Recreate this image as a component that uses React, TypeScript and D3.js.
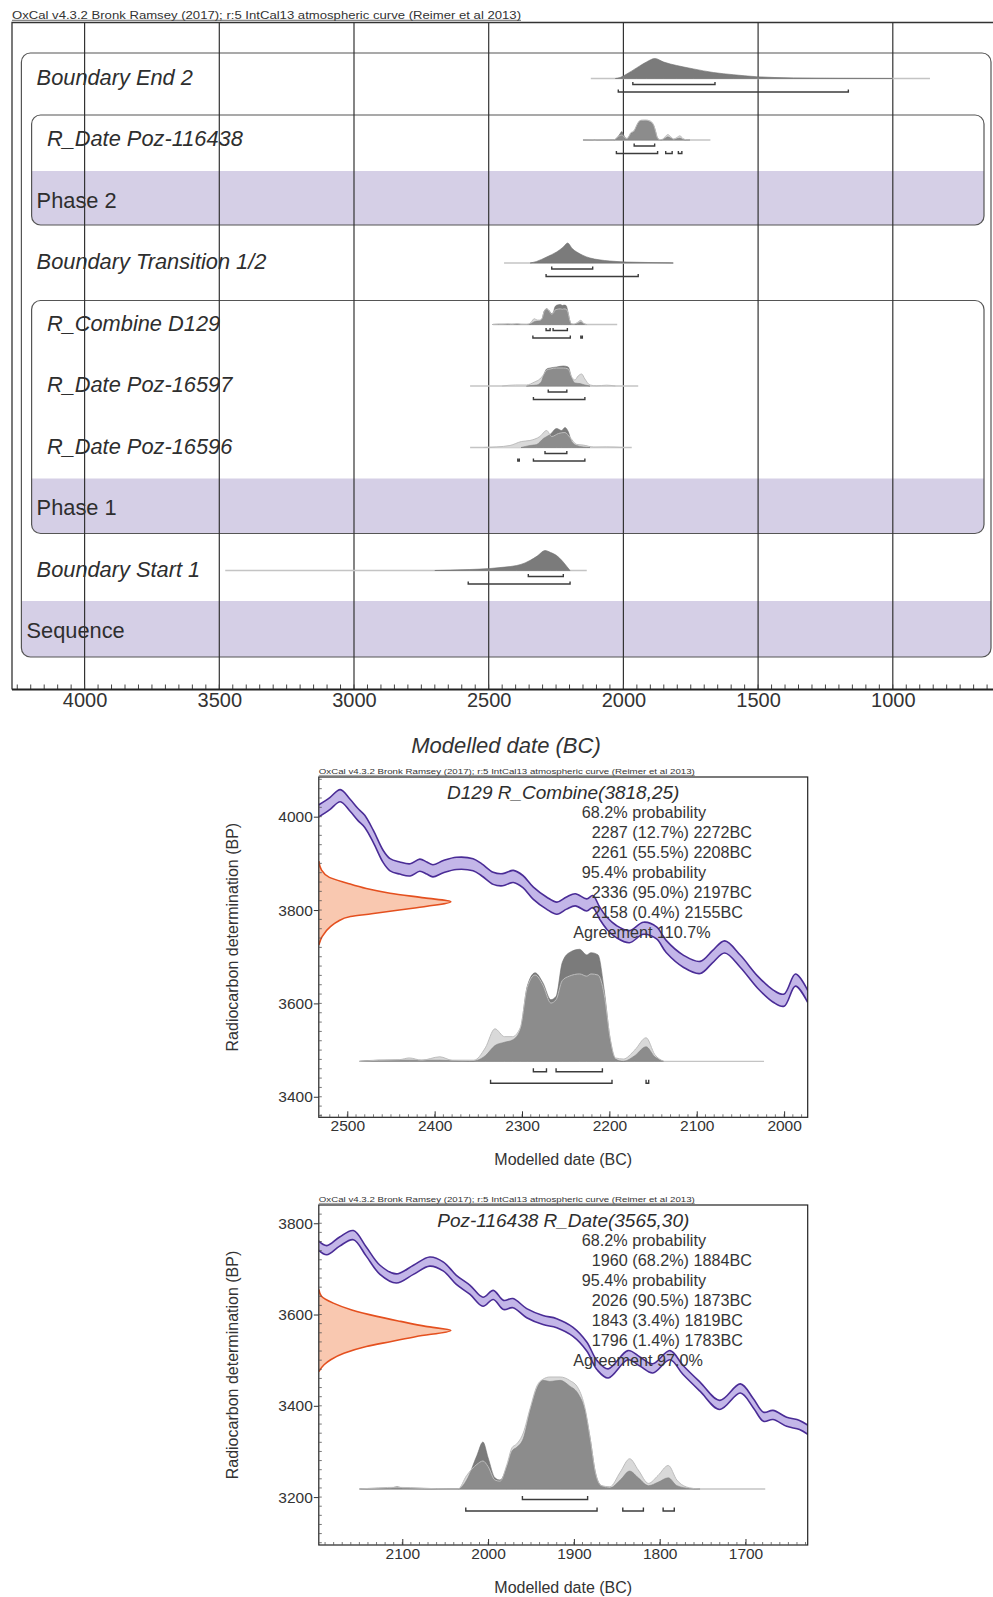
import React, { useEffect, useRef } from 'react';
import * as d3 from 'd3';

type Pt = [number, number];
type Range = [number, number];

const FONT = "'Liberation Sans', Arial, Helvetica, sans-serif";
const HEADER = 'OxCal v4.3.2 Bronk Ramsey (2017); r:5 IntCal13 atmospheric curve (Reimer et al 2013)';

// ---------- top plot: model structure ----------
const ROW_LABELS = [
  'Boundary End 2', 'R_Date Poz-116438', 'Phase 2', 'Boundary Transition 1/2', 'R_Combine D129',
  'R_Date Poz-16597', 'R_Date Poz-16596', 'Phase 1', 'Boundary Start 1', 'Sequence',
];
const ROW_KINDS = ['boundary', 'date', 'phase', 'boundary', 'date', 'date', 'date', 'phase', 'boundary', 'sequence'];
const TOP_TICKS = [4000, 3500, 3000, 2500, 2000, 1500, 1000];

// year BC, relative probability
const END2_POST: Pt[] = [[2030, 0], [2012, 0.05], [1988, 0.22], [1951, 0.53], [1914, 0.83], [1883, 1], [1850, 0.82],
  [1802, 0.65], [1740, 0.48], [1666, 0.3], [1592, 0.19], [1506, 0.09], [1369, 0.03], [1200, 0.01], [1000, 0]];
const END2_BASE: Range = [2121, 862];
const END2_R68: Range[] = [[1965, 1660]];
const END2_R95: Range[] = [[2019, 1165]];

const TRANS_POST: Pt[] = [[2346, 0], [2322, 0.08], [2285, 0.3], [2248, 0.55], [2223, 0.8], [2207, 1], [2190, 0.72],
  [2173, 0.55], [2150, 0.38], [2124, 0.25], [2090, 0.16], [2050, 0.1], [1990, 0.05], [1927, 0.03], [1850, 0.01], [1815, 0]];
const TRANS_BASE: Range = [2443, 1815];
const TRANS_R68: Range[] = [[2266, 2114]];
const TRANS_R95: Range[] = [[2287, 1945]];

const P16597_POST: Pt[] = [[2360, 0], [2347, 0.02], [2322, 0.05], [2305, 0.2], [2297, 0.5], [2285, 0.85], [2272, 0.9],
  [2248, 0.95], [2223, 1], [2205, 0.95], [2192, 0.4], [2180, 0.15], [2161, 0.12], [2143, 0.05], [2124, 0]];
const P16597_PRIOR: Pt[] = [[2450, 0], [2400, 0.05], [2360, 0.05], [2330, 0.2], [2310, 0.35], [2297, 0.55], [2285, 0.8],
  [2272, 0.85], [2248, 0.9], [2223, 0.9], [2205, 0.85], [2192, 0.45], [2180, 0.3], [2168, 0.5], [2155, 0.6], [2143, 0.35],
  [2124, 0.05], [2100, 0.01], [2062, 0.04], [2030, 0]];
const P16597_BASE: Range = [2569, 1945];
const P16597_R68: Range[] = [[2279, 2210]];
const P16597_R95: Range[] = [[2334, 2143]];

const P16596_POST: Pt[] = [[2380, 0], [2347, 0.1], [2322, 0.15], [2297, 0.45], [2272, 0.65], [2248, 0.95], [2229, 0.85],
  [2217, 1], [2205, 0.8], [2192, 0.3], [2173, 0.1], [2149, 0.03], [2124, 0]];
const P16596_PRIOR: Pt[] = [[2520, 0], [2470, 0.03], [2421, 0.1], [2378, 0.3], [2347, 0.35], [2310, 0.55], [2285, 0.85],
  [2266, 0.55], [2241, 0.7], [2217, 0.75], [2198, 0.5], [2173, 0.15], [2149, 0.12], [2110, 0.02], [2062, 0.03], [2000, 0]];
const P16596_BASE: Range = [2569, 1969];
const P16596_R68: Range[] = [[2291, 2210]];
const P16596_R95: Range[] = [[2392, 2387], [2334, 2143]];

const START1_POST: Pt[] = [[2700, 0], [2644, 0.02], [2570, 0.05], [2495, 0.1], [2440, 0.17], [2396, 0.25], [2365, 0.38],
  [2347, 0.5], [2320, 0.72], [2291, 1], [2270, 0.9], [2248, 0.75], [2225, 0.45], [2210, 0.2], [2198, 0]];
const START1_BASE: Range = [3478, 2136];
const START1_R68: Range[] = [[2353, 2223]];
const START1_R95: Range[] = [[2576, 2198]];

// ---------- D129 R_Combine(3818,25) ----------
const D129_TITLE = 'D129 R_Combine(3818,25)';
const D129_TEXT = ['68.2% probability', '2287 (12.7%) 2272BC', '2261 (55.5%) 2208BC', '95.4% probability',
  '2336 (95.0%) 2197BC', '2158 (0.4%) 2155BC', 'Agreement 110.7%'];
const D129_X_TICKS = [2500, 2400, 2300, 2200, 2100, 2000];
const D129_Y_TICKS = [3400, 3600, 3800, 4000];
// cal BC, 14C BP (IntCal13 mid-line)
const D129_CURVE: Pt[] = [[2533, 4012], [2520, 4028], [2508, 4045], [2497, 4025], [2488, 4005], [2480, 3990], [2470, 3957],
  [2459, 3915], [2451, 3897], [2440, 3890], [2428, 3886], [2417, 3896], [2409, 3890], [2402, 3884], [2390, 3893],
  [2375, 3900], [2356, 3897], [2346, 3886], [2333, 3868], [2322, 3865], [2310, 3872], [2299, 3861], [2287, 3836],
  [2272, 3815], [2260, 3804], [2249, 3815], [2239, 3822], [2226, 3811], [2219, 3818], [2211, 3793], [2203, 3772],
  [2192, 3754], [2177, 3743], [2161, 3761], [2146, 3751], [2135, 3722], [2115, 3690], [2096, 3677], [2082, 3700],
  [2068, 3721], [2050, 3690], [2030, 3645], [2012, 3615], [2000, 3607], [1987, 3650], [1973, 3615]];
const D129_CURVE_SIGMA = 13;
// BP, relative density
const D129_MEASURE: Pt[] = [[3905, 0], [3886, 0.02], [3870, 0.08], [3858, 0.21], [3846, 0.36], [3836, 0.54], [3826, 0.8],
  [3818, 1], [3808, 0.82], [3800, 0.61], [3792, 0.4], [3786, 0.24], [3775, 0.14], [3765, 0.09], [3743, 0.025], [3725, 0]];
const D129_POST: Pt[] = [[2486, 0], [2464, 0.01], [2429, 0.01], [2394, 0.01], [2360, 0], [2351, 0.01], [2342, 0.05],
  [2331, 0.14], [2320, 0.17], [2311, 0.19], [2302, 0.28], [2294, 0.67], [2285, 0.79], [2276, 0.7], [2267, 0.55],
  [2261, 0.58], [2254, 0.88], [2246, 0.97], [2234, 1], [2226, 0.95], [2221, 0.97], [2213, 0.95], [2206, 0.64],
  [2199, 0.19], [2193, 0.02], [2184, 0], [2171, 0.05], [2158, 0.13], [2148, 0.04], [2138, 0]];
const D129_PRIOR: Pt[] = [[2486, 0], [2464, 0.01], [2440, 0.015], [2429, 0.03], [2415, 0.01], [2394, 0.04], [2380, 0.01],
  [2355, 0.01], [2342, 0.12], [2331, 0.29], [2320, 0.22], [2311, 0.22], [2302, 0.3], [2294, 0.66], [2285, 0.77],
  [2276, 0.68], [2267, 0.52], [2261, 0.55], [2254, 0.72], [2246, 0.76], [2234, 0.78], [2226, 0.76], [2221, 0.78],
  [2213, 0.77], [2206, 0.6], [2199, 0.2], [2193, 0.03], [2184, 0.02], [2171, 0.1], [2158, 0.21], [2148, 0.06], [2138, 0]];
const D129_BASE: Range = [2484, 2023];
const D129_R68: Range[] = [[2287, 2272], [2261, 2208]];
const D129_R95: Range[] = [[2336, 2197], [2158, 2155]];

// ---------- Poz-116438 R_Date(3565,30) ----------
const POZ_TITLE = 'Poz-116438 R_Date(3565,30)';
const POZ_TEXT = ['68.2% probability', '1960 (68.2%) 1884BC', '95.4% probability', '2026 (90.5%) 1873BC',
  '1843 (3.4%) 1819BC', '1796 (1.4%) 1783BC', 'Agreement 97.0%'];
const POZ_X_TICKS = [2100, 2000, 1900, 1800, 1700];
const POZ_Y_TICKS = [3200, 3400, 3600, 3800];
const POZ_CURVE: Pt[] = [[2198, 3752], [2188, 3741], [2173, 3760], [2157, 3774], [2142, 3738], [2126, 3698], [2107, 3679],
  [2087, 3698], [2068, 3716], [2052, 3705], [2037, 3676], [2021, 3654], [2006, 3628], [1994, 3643], [1982, 3621],
  [1971, 3625], [1955, 3603], [1936, 3588], [1920, 3581], [1901, 3562], [1885, 3530], [1873, 3489], [1860, 3471],
  [1837, 3511], [1823, 3497], [1808, 3482], [1788, 3511], [1773, 3479], [1753, 3442], [1730, 3402], [1706, 3438],
  [1691, 3406], [1679, 3376], [1668, 3380], [1652, 3365], [1637, 3358], [1627, 3347]];
const POZ_CURVE_SIGMA = 10;
const POZ_MEASURE: Pt[] = [[3655, 0], [3640, 0.02], [3625, 0.11], [3610, 0.25], [3596, 0.44], [3585, 0.62], [3574, 0.81],
  [3565, 1], [3552, 0.74], [3541, 0.55], [3530, 0.36], [3515, 0.19], [3501, 0.09], [3490, 0.04], [3475, 0]];
const POZ_POST: Pt[] = [[2150, 0], [2115, 0.005], [2106, 0.02], [2098, 0.005], [2045, 0], [2035, 0], [2025, 0.08],
  [2013, 0.3], [2006, 0.42], [2000, 0.28], [1992, 0.1], [1986, 0.08], [1978, 0.2], [1972, 0.34], [1967, 0.37],
  [1959, 0.45], [1951, 0.7], [1943, 0.9], [1936, 0.97], [1928, 0.96], [1916, 0.97], [1905, 0.92], [1895, 0.85],
  [1887, 0.7], [1881, 0.45], [1875, 0.15], [1868, 0.03], [1858, 0.01], [1846, 0.08], [1835, 0.16], [1825, 0.1],
  [1813, 0.03], [1802, 0.06], [1790, 0.1], [1780, 0.03], [1765, 0.005], [1753, 0]];
const POZ_PRIOR: Pt[] = [[2150, 0], [2106, 0.015], [2045, 0], [2035, 0], [2025, 0.12], [2013, 0.22], [2006, 0.25],
  [2000, 0.2], [1992, 0.08], [1986, 0.07], [1978, 0.22], [1972, 0.37], [1967, 0.4], [1959, 0.5], [1951, 0.72],
  [1943, 0.92], [1936, 0.98], [1928, 1], [1916, 1], [1905, 0.97], [1895, 0.9], [1887, 0.72], [1881, 0.45], [1875, 0.15],
  [1868, 0.03], [1858, 0.02], [1846, 0.15], [1835, 0.27], [1825, 0.17], [1813, 0.05], [1802, 0.12], [1790, 0.21],
  [1780, 0.08], [1765, 0.01], [1753, 0]];
const POZ_BASE: Range = [2149, 1677];
const POZ_R68: Range[] = [[1960, 1884]];
const POZ_R95: Range[] = [[2026, 1873], [1843, 1819], [1796, 1783]];

interface Dist { post: Pt[]; prior?: Pt[]; base: Range; r68: Range[]; r95: Range[] }

const TOP_DISTS: (Dist | null)[] = [
  { post: END2_POST, base: END2_BASE, r68: END2_R68, r95: END2_R95 },
  { post: POZ_POST, prior: POZ_PRIOR, base: POZ_BASE, r68: POZ_R68, r95: POZ_R95 },
  null,
  { post: TRANS_POST, base: TRANS_BASE, r68: TRANS_R68, r95: TRANS_R95 },
  { post: D129_POST, prior: D129_PRIOR, base: D129_BASE, r68: D129_R68, r95: D129_R95 },
  { post: P16597_POST, prior: P16597_PRIOR, base: P16597_BASE, r68: P16597_R68, r95: P16597_R95 },
  { post: P16596_POST, prior: P16596_PRIOR, base: P16596_BASE, r68: P16596_R68, r95: P16596_R95 },
  null,
  { post: START1_POST, base: START1_BASE, r68: START1_R68, r95: START1_R95 },
  null,
];

type Sel = d3.Selection<SVGGElement, unknown, null, undefined>;

function drawDist(g: Sel, x: d3.ScaleLinear<number, number>, dist: Dist, baseY: number, h: number,
  y68: number, y95: number, tick: number) {
  g.append('line')
    .attr('x1', x(dist.base[0])).attr('x2', x(dist.base[1]))
    .attr('y1', baseY).attr('y2', baseY)
    .attr('stroke', '#c4c4c4').attr('stroke-width', 1.3);

  const area = d3.area<Pt>().x(d => x(d[0])).y0(baseY).y1(d => baseY - d[1] * h).curve(d3.curveMonotoneX);
  const top = d3.line<Pt>().x(d => x(d[0])).y(d => baseY - d[1] * h).curve(d3.curveMonotoneX);

  if (dist.prior) {
    g.append('path').datum(dist.prior).attr('d', area).attr('fill', '#dedede');
  }
  g.append('path').datum(dist.post).attr('d', area).attr('fill', '#7b7b7b')
    .attr('stroke', '#6e6e6e').attr('stroke-width', 0.6);
  if (dist.prior) {
    g.append('path').datum(dist.prior).attr('d', area).attr('fill', 'rgba(200,200,200,0.22)');
    g.append('path').datum(dist.prior).attr('d', top).attr('fill', 'none')
      .attr('stroke', '#bdbdbd').attr('stroke-width', 1);
  }

  const bracket = (r: Range, y: number) => {
    const x1 = x(r[0]);
    const x2 = Math.max(x(r[1]), x1 + 1.5);
    g.append('path')
      .attr('d', `M${x1},${y - tick}V${y}H${x2}V${y - tick}`)
      .attr('fill', 'none').attr('stroke', '#3c3c3c').attr('stroke-width', 1.4);
  };
  dist.r68.forEach(r => bracket(r, y68));
  dist.r95.forEach(r => bracket(r, y95));
}

interface CalCfg {
  id: string;
  frame: { left: number; right: number; top: number; bottom: number };
  xDomain: Range; yDomain: Range; xTicks: number[]; yTicks: number[];
  curve: Pt[]; sigma: number; measure: Pt[]; dist: Dist; title: string; text: string[];
}

function drawCal(svg: d3.Selection<SVGSVGElement, unknown, null, undefined>, cfg: CalCfg) {
  const { frame } = cfg;
  const x = d3.scaleLinear().domain(cfg.xDomain).range([frame.left, frame.right]);
  const y = d3.scaleLinear().domain(cfg.yDomain).range([frame.bottom, frame.top]);
  const g = svg.append('g') as unknown as Sel;

  svg.select('defs').append('clipPath').attr('id', cfg.id).append('rect')
    .attr('x', frame.left).attr('y', frame.top)
    .attr('width', frame.right - frame.left).attr('height', frame.bottom - frame.top);

  // header
  g.append('text').attr('x', frame.left).attr('y', frame.top - 3)
    .attr('font-size', 7.5).attr('fill', '#333').attr('font-family', FONT)
    .attr('textLength', 376).attr('lengthAdjust', 'spacingAndGlyphs').text(HEADER);
  g.append('line').attr('x1', frame.left).attr('x2', frame.left + 376)
    .attr('y1', frame.top - 1.6).attr('y2', frame.top - 1.6).attr('stroke', '#555').attr('stroke-width', 0.6);

  const inner = g.append('g').attr('clip-path', `url(#${cfg.id})`);

  // calibration curve band
  const band = d3.area<Pt>().x(d => x(d[0])).y0(d => y(d[1] - cfg.sigma)).y1(d => y(d[1] + cfg.sigma))
    .curve(d3.curveCatmullRom);
  inner.append('path').datum(cfg.curve).attr('d', band).attr('fill', '#c3b6e8');
  [-cfg.sigma, cfg.sigma].forEach(s => {
    inner.append('path').datum(cfg.curve)
      .attr('d', d3.line<Pt>().x(d => x(d[0])).y(d => y(d[1] + s)).curve(d3.curveCatmullRom))
      .attr('fill', 'none').attr('stroke', '#4a2c96').attr('stroke-width', 1.6);
  });

  // measured radiocarbon distribution along y axis
  const mw = 132;
  inner.append('path').datum(cfg.measure)
    .attr('d', d3.area<Pt>().y(d => y(d[0])).x0(frame.left).x1(d => frame.left + d[1] * mw).curve(d3.curveMonotoneY))
    .attr('fill', '#f9c8b0');
  inner.append('path').datum(cfg.measure)
    .attr('d', d3.line<Pt>().y(d => y(d[0])).x(d => frame.left + d[1] * mw).curve(d3.curveMonotoneY))
    .attr('fill', 'none').attr('stroke', '#e4501f').attr('stroke-width', 1.6);

  // calibrated distribution
  const baseY = frame.bottom - 56;
  drawDist(inner as unknown as Sel, x, cfg.dist, baseY, 112, baseY + 10.5, baseY + 22, 3.5);

  // text block
  const cx = (frame.left + frame.right) / 2;
  const titleY = frame.top + 15;
  g.append('text').attr('x', cx).attr('y', titleY + 6.5).attr('text-anchor', 'middle')
    .attr('font-size', 19).attr('font-style', 'italic').attr('fill', '#2e2e2e').attr('font-family', FONT)
    .text(cfg.title);
  cfg.text.forEach((t, k) => {
    const lx = t.startsWith('Agreement') ? frame.left + 254.5 : t.includes('probability') ? frame.left + 263 : frame.left + 273;
    g.append('text').attr('x', lx).attr('y', titleY + 20 * (k + 1) + 6)
      .attr('font-size', 16.2).attr('fill', '#363636').attr('font-family', FONT).text(t);
  });

  // frame
  g.append('rect').attr('x', frame.left).attr('y', frame.top)
    .attr('width', frame.right - frame.left).attr('height', frame.bottom - frame.top)
    .attr('fill', 'none').attr('stroke', '#222').attr('stroke-width', 1.2);

  // x axis
  const minorX = d3.range(Math.ceil(cfg.xDomain[1] / 10) * 10, cfg.xDomain[0], 10);
  g.append('g').selectAll('line').data(minorX).join('line')
    .attr('x1', d => x(d)).attr('x2', d => x(d)).attr('y1', frame.bottom).attr('y2', frame.bottom - 3)
    .attr('stroke', '#555').attr('stroke-width', 0.8);
  const xa = g.append('g').attr('transform', `translate(0,${frame.bottom})`)
    .call(d3.axisBottom(x).tickValues(cfg.xTicks).tickSizeInner(-6).tickSizeOuter(0).tickPadding(3).tickFormat(d => String(d)));
  xa.select('.domain').remove();
  xa.selectAll('text').attr('font-size', 15.5).attr('font-family', FONT).attr('fill', '#333');
  xa.selectAll('line').attr('stroke', '#333');

  // y axis
  const minorY = d3.range(Math.ceil(cfg.yDomain[0] / 20) * 20, cfg.yDomain[1], 20);
  g.append('g').selectAll('line').data(minorY).join('line')
    .attr('x1', frame.left).attr('x2', frame.left + 3).attr('y1', d => y(d)).attr('y2', d => y(d))
    .attr('stroke', '#555').attr('stroke-width', 0.8);
  const ya = g.append('g').attr('transform', `translate(${frame.left},0)`)
    .call(d3.axisLeft(y).tickValues(cfg.yTicks).tickSizeInner(5).tickSizeOuter(0).tickPadding(1).tickFormat(d => String(d)));
  ya.select('.domain').remove();
  ya.selectAll('text').attr('font-size', 15.5).attr('font-family', FONT).attr('fill', '#333');
  ya.selectAll('line').attr('stroke', '#333');

  g.append('text').attr('x', cx).attr('y', frame.bottom + 47.5).attr('text-anchor', 'middle')
    .attr('font-size', 16).attr('fill', '#333').attr('font-family', FONT).text('Modelled date (BC)');
  g.append('text').attr('transform', `translate(237.5,${(frame.top + frame.bottom) / 2 - 10}) rotate(-90)`)
    .attr('text-anchor', 'middle').attr('font-size', 16).attr('fill', '#333').attr('font-family', FONT)
    .text('Radiocarbon determination (BP)');
}

const App: React.FC = () => {
  const svgRef = useRef<SVGSVGElement>(null);

  useEffect(() => {
    if (!svgRef.current) return;
    const svg = d3.select(svgRef.current);
    svg.selectAll('*').remove();
    svg.append('defs');
    svg.append('rect').attr('width', 993).attr('height', 1597).attr('fill', '#fff');

    // ---------------- top multiplot ----------------
    const xTop = d3.scaleLinear().domain([4000, 1000]).range([84.6, 892.8]);
    const rowY = (i: number) => 77 + i * 61.5;
    const left = 12, frameTop = 22.5, axisY = 689.5, right = 993;
    const top = svg.append('g') as unknown as Sel;

    top.append('text').attr('x', left).attr('y', 18.5).attr('font-size', 11).attr('fill', '#333')
      .attr('font-family', FONT).attr('textLength', 509).attr('lengthAdjust', 'spacingAndGlyphs').text(HEADER);
    top.append('line').attr('x1', left).attr('x2', left + 509).attr('y1', 20.3).attr('y2', 20.3)
      .attr('stroke', '#444').attr('stroke-width', 0.8);

    // grouping boxes with shaded label bands
    const boxes = [
      { x0: 21.4, x1: 991, y0: rowY(0) - 24, y1: rowY(9) + 26.5, band: rowY(9) - 29.5 },
      { x0: 31.6, x1: 984, y0: rowY(1) - 23.5, y1: rowY(2) + 25, band: rowY(2) - 29 },
      { x0: 31.6, x1: 984, y0: rowY(4) - 22.5, y1: rowY(7) + 26, band: rowY(7) - 29 },
    ];
    boxes.forEach((b, i) => {
      svg.select('defs').append('clipPath').attr('id', `box${i}`).append('rect')
        .attr('x', b.x0).attr('y', b.y0).attr('width', b.x1 - b.x0).attr('height', b.y1 - b.y0).attr('rx', 9);
      top.append('rect').attr('clip-path', `url(#box${i})`)
        .attr('x', b.x0).attr('y', b.band).attr('width', b.x1 - b.x0).attr('height', b.y1 - b.band)
        .attr('fill', '#d5cfe6');
      top.append('rect').attr('x', b.x0).attr('y', b.y0).attr('width', b.x1 - b.x0).attr('height', b.y1 - b.y0)
        .attr('rx', 9).attr('fill', 'none').attr('stroke', '#555').attr('stroke-width', 1.2);
    });

    // vertical grid
    top.append('g').selectAll('line').data(TOP_TICKS).join('line')
      .attr('x1', d => xTop(d)).attr('x2', d => xTop(d)).attr('y1', frameTop).attr('y2', axisY)
      .attr('stroke', '#333').attr('stroke-width', 1.2);

    // distributions
    TOP_DISTS.forEach((dist, i) => {
      if (!dist) return;
      const y = rowY(i);
      drawDist(top, xTop, dist, y + 1.5, 20, y + 7.5, y + 15, 2.5);
    });

    // row labels
    ROW_LABELS.forEach((label, i) => {
      const kind = ROW_KINDS[i];
      const lx = kind === 'date' ? 46.9 : kind === 'sequence' ? 26.5 : 36.6;
      top.append('text').attr('x', lx).attr('y', rowY(i) + 7.5)
        .attr('font-size', 21.8).attr('font-family', FONT).attr('fill', '#2e2e2e')
        .attr('font-style', kind === 'boundary' || kind === 'date' ? 'italic' : 'normal')
        .text(label);
    });

    // frame + axis
    top.append('path').attr('d', `M${right},${frameTop}H${left}V${axisY}`)
      .attr('fill', 'none').attr('stroke', '#333').attr('stroke-width', 1.3);
    const minor = d3.range(650, 4300, 50);
    top.append('g').selectAll('line').data(minor).join('line')
      .attr('x1', d => xTop(d)).attr('x2', d => xTop(d)).attr('y1', axisY).attr('y2', axisY - 5)
      .attr('stroke', '#444').attr('stroke-width', 1);
    top.append('line').attr('x1', left).attr('x2', right).attr('y1', axisY).attr('y2', axisY)
      .attr('stroke', '#222').attr('stroke-width', 2);
    const ax = top.append('g').attr('transform', `translate(0,${axisY})`)
      .call(d3.axisBottom(xTop).tickValues(TOP_TICKS).tickSize(0).tickPadding(3.5).tickFormat(d => String(d)));
    ax.select('.domain').remove();
    ax.selectAll('text').attr('font-size', 20).attr('font-family', FONT).attr('fill', '#333');
    top.append('text').attr('x', 506).attr('y', 752.5).attr('text-anchor', 'middle')
      .attr('font-size', 22).attr('font-style', 'italic').attr('font-family', FONT).attr('fill', '#333')
      .text('Modelled date (BC)');

    // ---------------- single-date plots ----------------
    drawCal(svg, {
      id: 'clipD129',
      frame: { left: 318.8, right: 807.7, top: 777, bottom: 1117.3 },
      xDomain: [2532.6, 1973], yDomain: [3356, 4085], xTicks: D129_X_TICKS, yTicks: D129_Y_TICKS,
      curve: D129_CURVE, sigma: D129_CURVE_SIGMA, measure: D129_MEASURE,
      dist: { post: D129_POST, prior: D129_PRIOR, base: D129_BASE, r68: D129_R68, r95: D129_R95 },
      title: D129_TITLE, text: D129_TEXT,
    });
    drawCal(svg, {
      id: 'clipPoz',
      frame: { left: 318.8, right: 807.7, top: 1205, bottom: 1545 },
      xDomain: [2197.3, 1627.5], yDomain: [3095, 3840], xTicks: POZ_X_TICKS, yTicks: POZ_Y_TICKS,
      curve: POZ_CURVE, sigma: POZ_CURVE_SIGMA, measure: POZ_MEASURE,
      dist: { post: POZ_POST, prior: POZ_PRIOR, base: POZ_BASE, r68: POZ_R68, r95: POZ_R95 },
      title: POZ_TITLE, text: POZ_TEXT,
    });
  }, []);

  return (
    <svg ref={svgRef} width={993} height={1597} viewBox="0 0 993 1597"
      style={{ position: 'absolute', left: 0, top: 0, display: 'block' }} />
  );
};

export default App;
